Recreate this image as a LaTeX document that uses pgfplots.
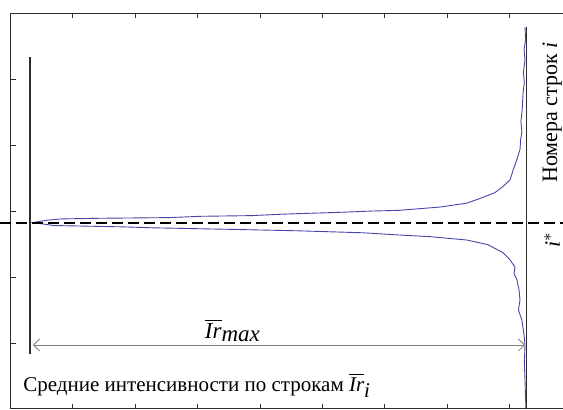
\documentclass[border=0pt]{standalone}
\usepackage{pgfplots}
\pgfplotsset{compat=1.18}
\usepackage{fontspec}
\setmainfont{Liberation Serif}
\usetikzlibrary{arrows.meta}
\definecolor{curve}{RGB}{70,70,170}
\definecolor{frame}{RGB}{45,45,45}
\begin{document}
\begin{tikzpicture}
\path[use as bounding box] (0,0) rectangle (281.5pt,-204.5pt);
\clip (0,0) rectangle (281.5pt,-204.5pt);
\begin{axis}[
 at={(5.25pt,-6.5pt)}, anchor=north west,
 scale only axis, width=312pt, height=198pt,
 xmin=0, xmax=200, ymin=0, ymax=600, y dir=reverse,
 xtick={20,40,...,180}, ytick={100,200,...,500},
 xticklabels={}, yticklabels={},
 tick align=inside, major tick length=2.5pt,
 axis line style={frame, line width=0.5pt},
 every tick/.style={frame, line width=0.5pt},
 clip=false,
 font=\fontsize{11}{13}\selectfont,
]
\addplot[curve, line width=0.45pt] table {
Ir row
164.9 21
165.1 40
164.6 55
164.9 71
164.4 90
164.7 105
164.3 120
164.0 147
163.6 165
163.9 180
163.5 192
163.3 207
162.3 222
161.1 238
160.1 253
157.8 263
155.3 272
150.5 281
146.3 288
137.7 294
124.5 299
116.2 300
105.6 302
92.1 304
86.4 305
77.1 307
61.1 308
50.8 310
28.7 311
16.2 312
11.7 314
7.2 317.5
13.9 322
35.7 324
46.0 325.5
72.6 328
92.1 330
113.0 333
123.2 336
134.8 339
146.3 344
153.0 351
157.8 363
160.1 374
161.7 385
161.4 395
162.3 404
163.0 420
163.3 435
162.8 450
163.9 465
164.6 488
164.9 503
164.7 530
164.9 556
165.2 600
};
\draw[frame, line width=1pt] (axis cs:6.25,67) -- (axis cs:6.25,517);
\draw[frame, line width=0.9pt] (axis cs:165.4,21) -- (axis cs:165.4,600);
\draw[gray, line width=0.4pt, {Straight Barb[length=3pt]}-{Straight Barb[length=3pt]}] (axis cs:7.2,503) -- (axis cs:164.9,503);
\draw[black, line width=1pt, dash pattern=on 5.5pt off 2.5pt] (axis cs:-3.4,318) -- (axis cs:200,318);
\node[anchor=base west, inner sep=0pt, font=\fontsize{10.5}{12}\selectfont] at (axis cs:4.0,573) {Средние интенсивности по строкам $\overline{\textit{Ir}}_{\textit{i}}$};
\node[font=\fontsize{11.5}{13}\selectfont] at (axis cs:71.3,481) {$\overline{\textit{Ir}}_{\textit{max}}$};
\node[rotate=90] at (axis cs:173.6,151) {Номера строк \textit{i}};
\node[rotate=90] at (axis cs:173.6,344) {$\textit{i}^{*}$};
\end{axis}
\end{tikzpicture}
\end{document}
